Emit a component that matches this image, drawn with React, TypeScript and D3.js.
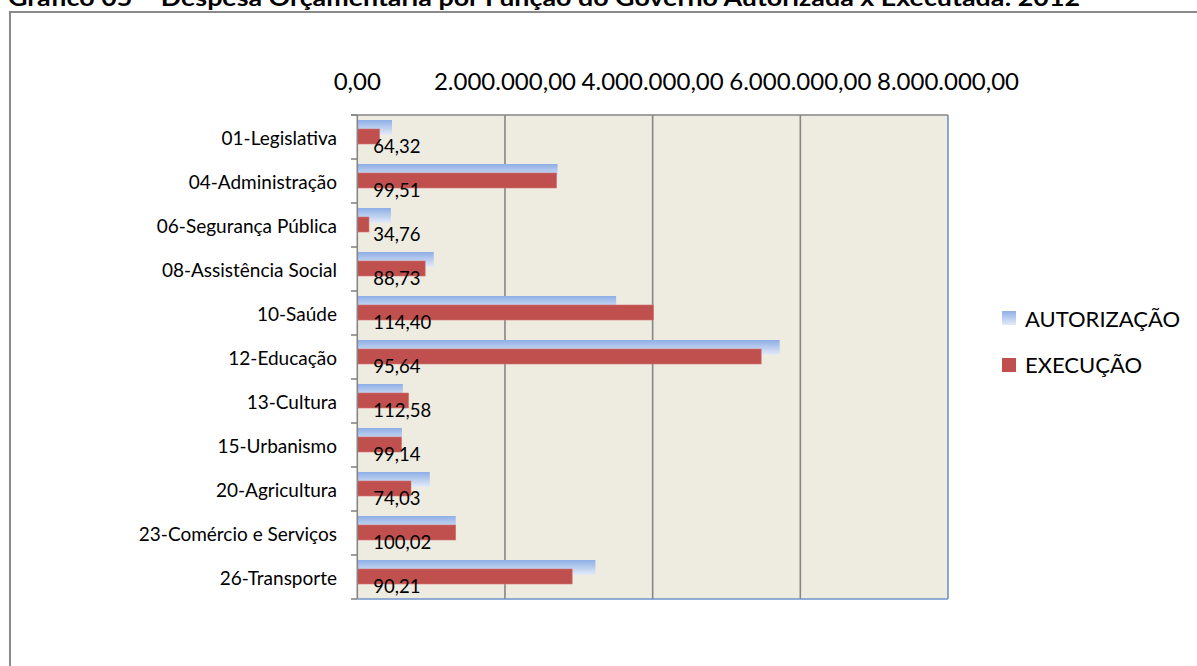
import React from "react";
import * as d3 from "d3";

const categories = [
  "01-Legislativa",
  "04-Administração",
  "06-Segurança Pública",
  "08-Assistência Social",
  "10-Saúde",
  "12-Educação",
  "13-Cultura",
  "15-Urbanismo",
  "20-Agricultura",
  "23-Comércio e Serviços",
  "26-Transporte",
];
const autorizacao = [470000, 2712000, 455000, 1036000, 3505000, 5720000, 617000, 604000, 982000, 1333000, 3225000];
const execucao = [302000, 2699000, 158000, 919000, 4010000, 5470000, 695000, 599000, 727000, 1333000, 2910000];
const percentLabels = ["64,32", "99,51", "34,76", "88,73", "114,40", "95,64", "112,58", "99,14", "74,03", "100,02", "90,21"];
const tickValues = [0, 2000000, 4000000, 6000000, 8000000];
const seriesNames = ["AUTORIZAÇÃO", "EXECUÇÃO"];
const title = "Gráfico 05 – Despesa Orçamentária por Função do Governo Autorizada x Executada: 2012";

const locale = d3.formatLocale({ decimal: ",", thousands: ".", grouping: [3], currency: ["R$", ""] });
const fmt = locale.format(",.2f");

export default function App() {
  const x = d3.scaleLinear().domain([0, 8000000]).range([357.3, 948]);
  const y = d3.scaleBand<string>().domain(categories).range([115, 599]).padding(0);
  const bw = y.bandwidth();
  const font = "Lato, 'Open Sans', sans-serif";
  const plotTop = 115;
  const plotBottom = 599;

  return (
    <svg
      width={1197}
      height={666}
      style={{ position: "absolute", left: 0, top: 0, background: "#fff" }}
      fontFamily={font}
    >
      <defs>
        <linearGradient id="blueGrad" x1="0" y1="0" x2="0" y2="1">
          <stop offset="0%" stopColor="#8EAEE6" />
          <stop offset="100%" stopColor="#E4EBF8" />
        </linearGradient>
      </defs>
      {/* title (clipped at top, as in the reference) */}
      <text
        x={8}
        y={5.5}
        fontSize={22}
        fontWeight="bold"
        fill="#000"
        textLength={1072}
        lengthAdjust="spacingAndGlyphs"
      >
        {title}
      </text>
      {/* chart border */}
      <rect x={10} y={12} width={1200} height={670} fill="none" stroke="#8A8A8A" strokeWidth={2} />

      {/* plot area */}
      <rect x={x(0)} y={plotTop} width={x(8000000) - x(0)} height={plotBottom - plotTop} fill="#EEEBE1" />

      {/* gridlines */}
      {tickValues.slice(1, -1).map((t) => (
        <line key={t} x1={x(t)} x2={x(t)} y1={plotTop} y2={plotBottom} stroke="#868686" strokeWidth={1.6} />
      ))}
      {/* right and bottom border (blue) */}
      <line x1={x(8000000)} x2={x(8000000)} y1={plotTop} y2={plotBottom} stroke="#6F93C9" strokeWidth={1.6} />
      <line x1={x(0)} x2={x(8000000)} y1={plotBottom} y2={plotBottom} stroke="#6F93C9" strokeWidth={1.6} />
      {/* top axis line */}
      <line x1={351} x2={x(8000000)} y1={plotTop} y2={plotTop} stroke="#868686" strokeWidth={1.6} />

      {/* bars */}
      {categories.map((c, i) => (
        <g key={c}>
          <rect
            x={x(0)}
            y={(y(c) as number) + 5}
            width={x(autorizacao[i]) - x(0)}
            height={15}
            fill="url(#blueGrad)"
          />
          <rect
            x={x(0)}
            y={(y(c) as number) + 14}
            width={x(execucao[i]) - x(0)}
            height={15}
            fill="#C0504D"
            stroke="#D07572"
            strokeWidth={0.6}
          />
        </g>
      ))}

      {/* category axis */}
      <line x1={x(0)} x2={x(0)} y1={plotTop} y2={plotBottom} stroke="#868686" strokeWidth={1.6} />
      {[...categories.map((c) => y(c) as number), plotBottom].map((v, i) => (
        <line key={i} x1={351} x2={x(0)} y1={v} y2={v} stroke="#868686" strokeWidth={1.6} />
      ))}
      {categories.map((c) => (
        <text
          key={c}
          x={337}
          y={(y(c) as number) + bw / 2 + 7.5}
          textAnchor="end"
          fontSize={19}
          fill="#000"
        >
          {c}
        </text>
      ))}

      {/* data labels */}
      {categories.map((c, i) => (
        <text key={c} x={x(0) + 16} y={(y(c) as number) + 38} fontSize={18.5} fill="#000">
          {percentLabels[i]}
        </text>
      ))}

      {/* value axis tick labels */}
      {tickValues.map((t) => (
        <text key={t} x={x(t)} y={90} textAnchor="middle" fontSize={24} fill="#000">
          {fmt(t)}
        </text>
      ))}

      {/* legend */}
      <rect x={1002} y={311} width={14} height={14} fill="url(#blueGrad)" />
      <text x={1025} y={327} fontSize={22} fill="#000">
        {seriesNames[0]}
      </text>
      <rect x={1002} y={358} width={14} height={14} fill="#C0504D" />
      <text x={1025} y={373} fontSize={22} fill="#000">
        {seriesNames[1]}
      </text>
    </svg>
  );
}
